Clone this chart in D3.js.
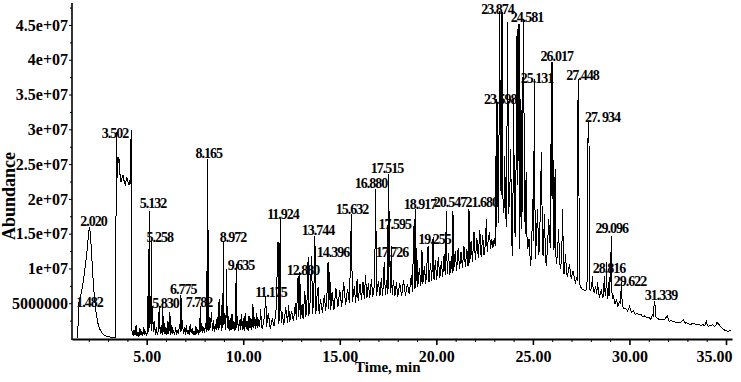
<!DOCTYPE html>
<html><head><meta charset="utf-8">
<script src="https://cdn.jsdelivr.net/npm/d3@7"></script>
<style>
html,body{margin:0;padding:0;background:#fff;}
svg{display:block;}
text{font-family:"Liberation Serif","Times New Roman",serif;font-weight:bold;fill:#000;}
</style></head><body>
<svg id="chart" width="741" height="382"></svg>
<script>
// ---- axis ticks ----
const xTickValues = [5,10,15,20,25,30,35];
const xTickLabels = ["5.00","10.00","15.00","20.00","25.00","30.00","35.00"];
const xMinorTicks = [2,3,4,6,7,8,9,11,12,13,14,16,17,18,19,21,22,23,24,26,27,28,29,31,32,33,34];
// abundance in millions
const yTickValues = [5,10,15,20,25,30,35,40,45];
const yTickLabels = ["5000000","1e+07","1.5e+07","2e+07","2.5e+07","3e+07","3.5e+07","4e+07","4.5e+07"];
const yMinorTicks = [2.5,7.5,12.5,17.5,22.5,27.5,32.5,37.5,42.5,47.5];

// ---- chromatogram trace: [time (min), abundance (x1e6)] ----
const traceEarly = [[1.44,0],[1.45,4.8],[1.5,5.2],[1.58,6.0],[1.66,7.2],[1.75,8.8],[1.84,10.8],[1.92,12.8],[1.98,14.6],[2.03,15.9],[2.08,15.2],[2.14,12.5],[2.2,9.5],[2.26,7.0],[2.33,4.8],[2.4,3.2],[2.5,1.8],[2.6,1.1],[2.7,0.7],[2.8,0.4],[2.95,0.25],[3.1,0.15],[3.25,0.1],[3.4,0.1],[3.42,29.6],[3.45,28.5],[3.48,23.0],[3.52,25.5],[3.56,26.0],[3.6,24.0],[3.66,22.4],[3.72,23.0],[3.78,23.4],[3.84,22.4],[3.9,22.0],[3.96,23.2],[4.02,22.6],[4.08,22.0],[4.14,22.8],[4.18,22.2],[4.19,29.8],[4.2,29.8],[4.22,1.5]];

const traceLow = [[4.25,0.8],[4.3,0.3],[4.35,1.2],[4.4,0.4],[4.45,1.8],[4.5,0.3],[4.55,0.9],[4.6,0.2],[4.65,1.4],[4.7,0.4],[4.75,1.0],[4.8,0.3],[4.85,1.6],[4.9,0.5],[4.95,0.9],[5.0,0.4],
[5.02,0.6],[5.05,6.0],[5.08,0.8],[5.1,3.5],[5.132,18.3],[5.16,1.5],[5.2,6.0],[5.23,1.0],[5.258,14.0],[5.28,2.0],[5.31,3.5],[5.35,0.8],[5.4,2.4],[5.45,0.5],[5.5,1.6],[5.55,0.4],
[5.6,1.0],[5.65,4.5],[5.7,0.6],[5.75,1.8],[5.8,0.5],[5.83,5.5],[5.86,0.8],[5.9,2.2],[5.95,0.6],[6.0,1.5],[6.05,0.5],[6.1,2.5],[6.15,0.6],[6.2,3.7],[6.25,0.4],[6.3,1.8],[6.35,0.6],[6.4,1.1],[6.45,0.4],[6.5,1.6],[6.55,0.5],[6.6,1.2],[6.65,0.6],[6.7,2.0],[6.75,0.8],[6.775,6.2],[6.8,1.0],[6.85,2.6],[6.9,0.6],[6.95,1.5],[7.0,0.5],[7.05,1.8],[7.1,0.6],[7.15,1.2],[7.2,0.4],[7.25,2.0],[7.3,0.7],[7.35,1.4],[7.4,0.5],[7.45,1.0],[7.5,0.4],[7.55,1.7],[7.6,0.6],[7.65,1.3],[7.7,0.5],[7.75,1.8],[7.782,4.6],[7.81,0.9],[7.85,2.2],[7.9,0.7],[7.95,1.5]];

const traceMid = [[8.0,0.8],[8.05,2.2],[8.08,0.9],[8.12,9.6],[8.14,1.2],[8.165,25.7],[8.19,1.0],[8.23,3.0],[8.27,1.2],[8.32,2.5],[8.36,3.8],[8.4,1.0],[8.45,2.6],[8.5,0.9],[8.55,2.0],[8.6,1.1],[8.65,3.0],[8.7,1.2],[8.75,5.6],[8.78,1.4],[8.82,3.2],[8.87,1.0],[8.91,5.8],[8.94,1.5],[8.972,14.0],[9.0,1.8],[9.05,3.6],[9.1,1.2],[9.14,9.9],[9.17,1.5],[9.22,3.2],[9.27,1.0],[9.32,2.8],[9.37,1.1],[9.42,3.5],[9.47,1.3],[9.52,2.4],[9.57,1.0],[9.61,3.0],[9.635,10.6],[9.66,1.5],[9.7,3.2],[9.75,1.0],[9.8,2.6],[9.85,1.2],[9.9,3.4],[9.95,1.1],[10.0,2.8],[10.05,1.0],[10.1,3.6],[10.15,1.3],[10.2,2.5],[10.25,1.0],[10.3,3.2],[10.35,1.4],[10.4,2.8],[10.45,1.2],[10.5,4.9],[10.55,1.5],[10.6,3.0],[10.65,1.3],[10.7,3.6],[10.75,1.4],[10.8,2.7],[10.85,1.6],[10.9,4.2],[10.95,1.5]];

const traceRise = [[11.0,1.4],[11.1,3.2],[11.17,6.0],[11.2,1.6],[11.3,3.6],[11.4,1.3],[11.5,2.8],[11.6,1.7],[11.7,4.1],[11.8,13.8],[11.85,2.0],[11.92,17.1],[11.96,2.2],[12.0,3.8],[12.1,1.9],[12.2,4.4],[12.3,2.1],[12.35,4.8],[12.4,2.3],[12.5,3.9],[12.6,2.4],[12.7,5.0],[12.75,2.6],[12.84,8.9],[12.88,3.0],[12.93,9.5],[12.97,2.8],[13.05,4.9],[13.1,2.7],[13.19,6.8],[13.24,3.0],[13.3,5.2],[13.36,11.6],[13.4,3.2],[13.47,5.4],[13.54,11.8],[13.59,3.4],[13.65,5.8],[13.71,14.7],[13.76,3.5],[13.82,6.0],[13.88,7.3],[13.93,3.4],[14.0,5.6],[14.1,3.6],[14.2,6.2],[14.27,3.9],[14.33,5.8],[14.39,10.9],[14.43,4.2],[14.48,9.5],[14.53,4.0],[14.6,6.6],[14.7,4.1],[14.8,7.2],[14.9,4.4],[15.0,6.9],[15.1,4.5],[15.2,8.0],[15.3,4.7],[15.4,7.1],[15.5,5.0],[15.6,17.8],[15.65,5.2],[15.75,7.4],[15.82,5.1],[15.9,8.5],[15.95,5.3],[16.05,7.8],[16.12,5.4],[16.2,8.1],[16.27,5.6],[16.33,9.0],[16.4,5.7],[16.48,7.9],[16.55,5.8],[16.64,8.5],[16.7,5.9],[16.8,7.6],[16.83,14.2],[16.86,21.4],[16.9,6.0],[17.0,8.2],[17.08,6.1],[17.15,8.6],[17.22,6.0],[17.3,10.9],[17.36,6.2],[17.43,8.4],[17.48,6.3],[17.51,23.6],[17.54,7.0],[17.57,18.2],[17.62,6.5],[17.67,13.2],[17.71,6.2],[17.78,8.4],[17.85,6.0],[17.93,8.0],[18.0,5.9],[18.1,7.9],[18.2,6.0],[18.3,8.3],[18.4,6.1],[18.5,7.8],[18.6,6.3],[18.7,9.0],[18.77,6.6],[18.82,16.1],[18.86,7.0],[18.9,18.5],[18.94,7.2],[18.98,13.0],[19.04,7.4],[19.12,10.1],[19.2,7.5],[19.255,12.6],[19.3,7.8],[19.38,10.4],[19.45,7.7],[19.52,11.0],[19.57,13.2],[19.62,8.0],[19.7,10.8],[19.76,8.2],[19.83,14.5],[19.88,8.4],[19.95,11.2],[20.02,8.3],[20.1,11.6],[20.18,8.6],[20.26,11.0],[20.33,8.8],[20.4,12.0],[20.46,9.0],[20.52,18.3],[20.56,9.2],[20.63,12.2],[20.7,9.1],[20.78,11.8],[20.82,9.4],[20.86,18.2],[20.9,9.6],[20.98,12.5],[21.05,9.6],[21.13,13.0],[21.2,9.9],[21.28,12.4],[21.35,10.0],[21.43,13.2],[21.5,10.2],[21.58,12.8],[21.64,10.4],[21.69,18.5],[21.73,10.8],[21.8,14.0],[21.87,11.0],[21.95,15.2],[22.02,11.2],[22.1,14.3],[22.17,11.5],[22.25,15.5],[22.32,11.6],[22.4,14.8],[22.47,11.9],[22.54,13.5],[22.59,17.1],[22.63,12.4],[22.7,14.5],[22.76,15.2],[22.8,12.8],[22.87,14.2],[22.93,13.0],[23.0,14.4],[23.05,13.2]];

const traceCluster = [[23.08,26.2],[23.11,16.0],[23.14,34.3],[23.18,20.0],[23.22,16.5],[23.28,47.0],[23.32,22.8],[23.36,20.5],[23.4,46.8],[23.45,20.0],[23.5,18.0],[23.54,26.2],[23.58,18.5],[23.63,16.0],[23.69,45.4],[23.74,17.8],[23.8,20.5],[23.85,27.2],[23.9,14.0],[23.95,11.8],[24.0,34.3],[24.05,15.7],[24.1,14.5],[24.18,44.4],[24.22,22.0],[24.28,45.1],[24.32,12.8],[24.38,34.3],[24.43,15.7],[24.51,45.8],[24.56,22.8],[24.6,15.0],[24.65,23.9],[24.7,13.5],[24.73,12.8],[24.8,14.2],[24.88,10.3],[24.94,13.0],[24.98,20.0],[25.03,14.0],[25.08,37.2],[25.12,11.4],[25.18,14.0],[25.24,18.5],[25.3,12.0],[25.34,12.8],[25.44,26.7],[25.5,12.1],[25.53,11.8],[25.6,17.8],[25.65,11.5],[25.7,10.3],[25.76,13.5],[25.82,17.1],[25.87,14.2],[25.91,13.0],[25.96,39.7],[25.99,20.0],[26.02,39.7],[26.06,12.8],[26.1,13.0],[26.15,24.3],[26.19,12.0],[26.22,10.6],[26.28,12.5],[26.33,15.7],[26.38,11.0],[26.43,9.9],[26.49,11.5],[26.54,18.5],[26.58,10.5],[26.61,9.2],[26.66,10.8],[26.69,12.1],[26.74,9.5],[26.79,8.8],[26.85,10.0],[26.9,10.6],[26.95,9.0],[27.0,8.5],[27.05,9.6],[27.1,9.6],[27.15,8.4],[27.2,8.0],[27.25,8.6],[27.3,8.2],[27.34,37.2],[27.37,37.2],[27.4,7.8]];

const traceTail = [[27.42,7.8],[27.5,7.2],[27.57,7.0],[27.65,6.9],[27.73,6.8],[27.8,7.2],[27.86,31.0],[27.9,31.0],[27.94,7.0],[27.99,6.8],[28.04,7.4],[28.09,8.9],[28.12,6.8],[28.19,6.6],[28.25,7.5],[28.3,6.3],[28.35,8.0],[28.4,6.4],[28.45,6.0],[28.5,6.5],[28.55,7.0],[28.6,5.8],[28.63,5.9],[28.71,8.9],[28.74,6.0],[28.78,6.3],[28.81,10.9],[28.85,5.6],[28.9,6.2],[28.95,8.5],[28.98,6.0],[29.01,12.4],[29.03,8.0],[29.06,14.7],[29.1,5.6],[29.17,6.0],[29.25,4.9],[29.33,5.6],[29.4,4.6],[29.48,5.2],[29.54,5.0],[29.58,8.0],[29.62,5.2],[29.66,4.5],[29.72,4.2],[29.8,4.2],[29.9,3.9],[30.0,4.5],[30.1,3.7],[30.2,3.9],[30.3,3.4],[30.4,3.6],[30.5,3.3],[30.6,3.4],[30.7,3.0],[30.8,3.2],[30.9,2.9],[31.0,3.0],[31.1,2.7],[31.2,3.3],[31.25,3.0],[31.28,5.3],[31.32,4.8],[31.37,3.0],[31.45,2.8],[31.53,2.7],[31.62,2.6],[31.69,2.6],[31.78,2.7],[31.84,2.7],[31.95,3.2],[32.05,2.4],[32.15,2.5],[32.25,2.4],[32.35,2.3],[32.46,2.3],[32.56,2.2],[32.67,2.3],[32.8,2.6],[32.9,2.1],[32.97,2.2],[33.1,2.0],[33.2,2.0],[33.3,2.1],[33.4,2.0],[33.5,1.9],[33.6,1.9],[33.7,1.8],[33.8,1.9],[33.9,1.8],[33.98,2.4],[34.03,1.8],[34.1,1.7],[34.2,1.8],[34.3,1.9],[34.4,1.7],[34.47,1.8],[34.54,2.3],[34.6,2.0],[34.65,2.0],[34.72,1.6],[34.8,1.4],[34.88,1.2],[34.95,1.1],[35.05,1.0],[35.17,1.0],[35.26,1.1]];

// ---- peak labels: [text, time, abundance x1e6] (label anchor) ----
const peakLabels = [["1.482",2.038,4.46],["2.020",2.245,16.10],["3.502",3.358,28.75],["5.132",5.326,18.69],["5.258",5.673,13.80],["5.830",5.974,4.31],["6.775",6.895,6.33],["7.782",7.708,4.46],["8.165",8.216,25.88],["8.972",9.469,13.80],["9.635",9.883,9.78],["11.175",11.437,5.89],["11.924",12.059,17.11],["12.880",13.094,9.06],["13.744",13.871,14.81],["14.396",14.648,11.65],["15.632",15.632,17.83],["16.880",16.616,21.57],["17.515",17.444,23.72],["17.595",17.843,15.67],["17.726",17.703,11.65],["18.917",19.153,18.55],["19.255",19.904,13.51],["20.547",20.707,18.83],["21.680",22.349,18.83],["23.598",23.312,33.64],["23.874",23.167,46.58],["24.581",24.694,45.47],["25.131",25.212,36.66],["26.017",26.232,39.82],["27.448",27.569,37.09],["27. 934",28.604,31.05],["28.816",28.941,9.35],["29.096",29.081,15.14],["29.622",30.029,7.48],["31.339",31.634,5.46]];

const svg = d3.select("#chart");
const x = d3.scaleLinear().domain([1.132, 35.31]).range([72, 732]);
const y = d3.scaleLinear().domain([0, 48.16]).range([338, 3]);

// x axis
const gx = svg.append("g").attr("transform","translate(0,339)")
  .call(d3.axisBottom(x).tickValues(xTickValues).tickFormat((d,i)=>xTickLabels[i]).tickSize(6).tickSizeOuter(0).tickPadding(6));
gx.attr("font-family",null).attr("font-size",null);
gx.select(".domain").attr("stroke-width",2.2);
gx.selectAll(".tick line").attr("stroke-width",1.6);
gx.selectAll(".tick text").style("font-size","16px");
gx.selectAll(".tick text").filter((d,i)=>i===xTickValues.length-1).attr("text-anchor","end").attr("x",x.range()[1]-x(35)+0);
svg.append("g").attr("transform","translate(0,339)")
  .call(d3.axisBottom(x).tickValues(xMinorTicks).tickFormat("").tickSize(3).tickSizeOuter(0))
  .call(g=>g.select(".domain").remove());

// y axis
const gy = svg.append("g").attr("transform","translate(72,0)")
  .call(d3.axisLeft(y).tickValues(yTickValues).tickFormat((d,i)=>yTickLabels[i]).tickSize(3).tickSizeOuter(0).tickPadding(1));
gy.attr("font-family",null).attr("font-size",null);
gy.select(".domain").attr("stroke-width",1.6).attr("d","M0,340V3");
gy.selectAll(".tick text").style("font-size","16px");
svg.append("g").attr("transform","translate(72,0)")
  .call(d3.axisLeft(y).tickValues(yMinorTicks).tickFormat("").tickSize(2).tickSizeOuter(0))
  .call(g=>g.select(".domain").remove());

// axis titles
svg.append("text").attr("transform","translate(15,196) rotate(-90)").attr("text-anchor","middle")
  .style("font-size","18px").text("Abundance");
svg.append("text").attr("x",355).attr("y",372).style("font-size","15px").text("Time, min");

// peak labels
svg.append("g").selectAll("text").data(peakLabels).join("text")
  .attr("x",d=>x(d[1])).attr("y",d=>y(d[2])).attr("text-anchor","middle")
  .style("font-size","14px").style("letter-spacing","-1px").text(d=>d[0]);

// trace
const trace = [].concat(traceEarly, traceLow, traceMid, traceRise, traceCluster, traceTail);
svg.append("path").datum(trace)
  .attr("fill","none").attr("stroke","#000").attr("stroke-width",1)
  .attr("shape-rendering","crispEdges")
  .attr("d", d3.line().x(d=>x(d[0])).y(d=>y(d[1])));
</script>
</body></html>
